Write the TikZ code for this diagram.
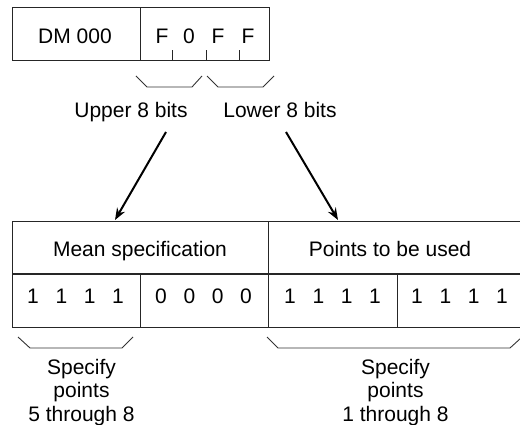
\documentclass[tikz,border=0pt]{standalone}
\usepackage{fontspec}
\setmainfont{Liberation Sans}
\usetikzlibrary{arrows.meta}
\begin{document}
\begin{tikzpicture}[x=1pt,y=-1pt,
  txt/.style={inner sep=0pt,font=\fontsize{21}{24}\selectfont},
  boxline/.style={draw=black!85,line width=1pt},
  brace/.style={draw=black!80,line width=0.9pt},
  arrowline/.style={draw=black,line width=2pt,-{Stealth[length=12pt,width=9pt]}}]
\clip (0,0) rectangle (520,425);
% top register
\node[boxline,minimum width=128pt,minimum height=53pt,inner sep=0pt,anchor=north west] (dm) at (12,7) {};
\node[boxline,minimum width=129pt,minimum height=53pt,inner sep=0pt,anchor=north west] (val) at (140,7) {};
\node[txt] (dmt) at (75,36) {DM 000};
\node[txt] (d1) at (162,36) {F};
\node[txt] (d2) at (189,36) {0};
\node[txt] (d3) at (218,36) {F};
\node[txt] (d4) at (248,36) {F};
\draw[boxline] (172,60) -- (172,50);
\draw[boxline] (206,60) -- (206,50);
\draw[boxline] (239,60) -- (239,50);
% braces under top register
\draw[brace] (136,76) -- (147,87) -- (192,87) -- (202,76);
\draw[brace] (207,76) -- (218,87) -- (263,87) -- (274,76);
\node[txt,anchor=base] (upper) at (131,118) {Upper 8 bits};
\node[txt,anchor=base] (lower) at (280,118) {Lower 8 bits};
% bottom table
\node[boxline,minimum width=256pt,minimum height=52pt,inner sep=0pt,anchor=north west] (mean) at (12,221) {};
\node[boxline,minimum width=257pt,minimum height=52pt,inner sep=0pt,anchor=north west] (pts) at (268,221) {};
\node[boxline,minimum width=128pt,minimum height=54pt,inner sep=0pt,anchor=north west] (c1) at (12,273) {};
\node[boxline,minimum width=128pt,minimum height=54pt,inner sep=0pt,anchor=north west] (c2) at (140,273) {};
\node[boxline,minimum width=129pt,minimum height=54pt,inner sep=0pt,anchor=north west] (c3) at (268,273) {};
\node[boxline,minimum width=128pt,minimum height=54pt,inner sep=0pt,anchor=north west] (c4) at (397,273) {};
\draw[draw=black!85,line width=1.5pt] (mean.south west) -- (pts.south east);
\node[txt,anchor=base] (meant) at (140,257) {Mean specification};
\node[txt,anchor=base] (ptst) at (390,257) {Points to be used};
\node[txt,anchor=base] (b1) at (75.5,303) {1\hspace{16.6pt}1\hspace{16.6pt}1\hspace{16.6pt}1};
\node[txt,anchor=base] (b2) at (203.5,303) {0\hspace{16.6pt}0\hspace{16.6pt}0\hspace{16.6pt}0};
\node[txt,anchor=base] (b3) at (332.5,303) {1\hspace{16.6pt}1\hspace{16.6pt}1\hspace{16.6pt}1};
\node[txt,anchor=base] (b4) at (459.5,303) {1\hspace{16.6pt}1\hspace{16.6pt}1\hspace{16.6pt}1};
% arrows
\coordinate (a1s) at (166,132);
\coordinate (a1e) at (115,220);
\coordinate (a2s) at (286,132);
\coordinate (a2e) at (338,220);
\draw[arrowline] (a1s) -- (a1e);
\draw[arrowline] (a2s) -- (a2e);
% bottom braces
\draw[brace] (18,337) -- (30,348) -- (122,348) -- (133,337);
\draw[brace] (267,337) -- (278,348) -- (510,348) -- (521,338);
\node[txt,anchor=base] (s1) at (81.5,374) {Specify};
\node[txt,anchor=base] (s1b) at (81.5,397.5) {points};
\node[txt,anchor=base] (s1c) at (81.5,421) {5 through 8};
\node[txt,anchor=base] (s2) at (395.5,374) {Specify};
\node[txt,anchor=base] (s2b) at (395.5,397.5) {points};
\node[txt,anchor=base] (s2c) at (395.5,421) {1 through 8};
\end{tikzpicture}
\end{document}
